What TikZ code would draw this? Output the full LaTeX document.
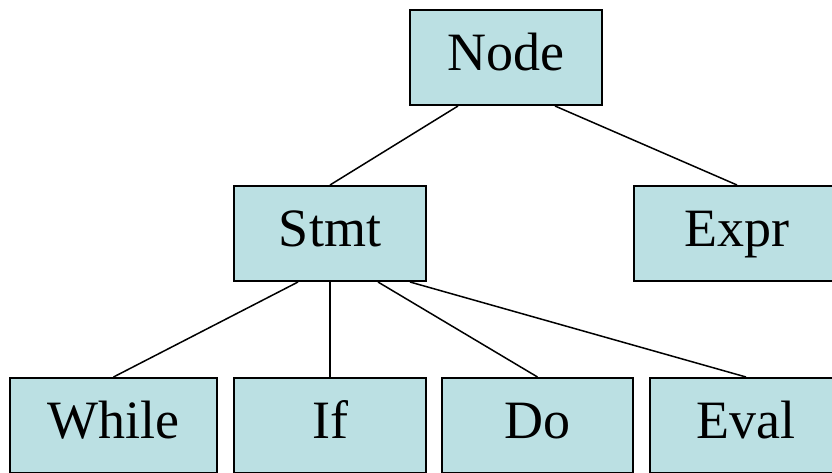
\documentclass[tikz,border=0pt]{standalone}
\usepackage{fontspec}
\setmainfont{Liberation Serif}
\usetikzlibrary{calc}
\definecolor{boxfill}{HTML}{BBE0E3}
\tikzset{
  cls/.style={draw=black, line width=2pt, fill=boxfill, rectangle,
    minimum height=95pt, inner sep=0pt, text height=37pt, text depth=12pt,
    font=\fontsize{54}{60}\selectfont},
  link/.style={draw=black, line width=1.5pt},
}
\begin{document}
\begin{tikzpicture}[x=1pt,y=-1pt]
  \clip (0,0) rectangle (832,472);
  \fill[white] (0,0) rectangle (832,472);
  % class hierarchy boxes
  \node[cls, minimum width=192pt] (node) at (506,57.5) {Node};
  \node[cls, minimum width=192pt] (stmt) at (330,233.5) {Stmt};
  \node[cls, minimum width=206pt] (expr) at (737,233.5) {Expr};
  \node[cls, minimum width=207pt] (while) at (113.5,425.5) {While};
  \node[cls, minimum width=192pt] (if) at (330,425.5) {If};
  \node[cls, minimum width=191pt] (do) at (537.5,425.5) {Do};
  \node[cls, minimum width=192pt] (eval) at (746,425.5) {Eval};
  % inheritance links
  \draw[link] ($(node.south)+(-48,0)$) -- (stmt.north);
  \draw[link] ($(node.south)+(49,0)$) -- (expr.north);
  \draw[link] ($(stmt.south)+(-32,0)$) -- (while.north);
  \draw[link, line width=2.5pt] (stmt.south) -- (if.north);
  \draw[link] ($(stmt.south)+(48,0)$) -- (do.north);
  \draw[link] ($(stmt.south)+(80,0)$) -- (eval.north);
\end{tikzpicture}
\end{document}
